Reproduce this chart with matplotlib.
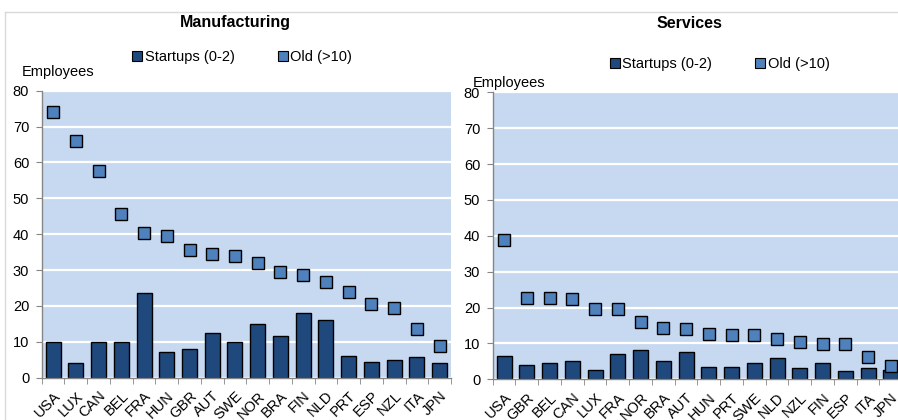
import matplotlib
matplotlib.use("Agg")
import matplotlib.pyplot as plt
import numpy as np
from matplotlib.lines import Line2D

plt.rcParams['font.family'] = ['Liberation Sans', 'DejaVu Sans']

manu_countries = ["USA", "LUX", "CAN", "BEL", "FRA", "HUN", "GBR", "AUT", "SWE",
                  "NOR", "BRA", "FIN", "NLD", "PRT", "ESP", "NZL", "ITA", "JPN"]
manu_startups = [10.0, 4.1, 10.0, 10.0, 23.5, 7.2, 8.1, 12.4, 10.0,
                 15.1, 11.6, 17.9, 16.0, 6.1, 4.5, 4.9, 5.7, 4.1]
manu_old = [74.0, 66.0, 57.7, 45.5, 40.3, 39.6, 35.6, 34.5, 34.0,
            32.1, 29.6, 28.5, 26.6, 23.8, 20.6, 19.4, 13.6, 8.7]

serv_countries = ["USA", "GBR", "BEL", "CAN", "LUX", "FRA", "NOR", "BRA", "AUT",
                  "HUN", "PRT", "SWE", "NLD", "NZL", "FIN", "ESP", "ITA", "JPN"]
serv_startups = [6.6, 3.9, 4.6, 5.0, 2.6, 7.0, 8.1, 5.0, 7.7,
                 3.4, 3.4, 4.6, 5.8, 3.1, 4.6, 2.2, 3.1, 2.6]
serv_old = [38.8, 22.7, 22.7, 22.3, 19.5, 19.5, 15.9, 14.4, 14.0,
            12.7, 12.4, 12.4, 11.2, 10.3, 9.9, 9.9, 6.1, 3.7]

yticks = [0, 10, 20, 30, 40, 50, 60, 70, 80]
series_labels = ["Startups (0-2)", "Old (>10)"]

W, H = 898, 420
BG = "#C6D9F0"
BAR = "#1F497D"
MARK = "#4F81BD"
AXC = "#868686"
FS = 10.5

fig = plt.figure(figsize=(W / 100, H / 100), dpi=100)


def px_axes(x0, x1, ytop, ybot):
    return fig.add_axes([x0 / W, (H - ybot) / H, (x1 - x0) / W, (ybot - ytop) / H])


def draw_panel(ax, cats, starts, olds):
    n = len(cats)
    x = np.arange(n)
    ax.set_facecolor(BG)
    ax.set_axisbelow(True)
    ax.yaxis.grid(True, color="white", linewidth=1.6)
    ax.bar(x, starts, width=0.66, color=BAR, edgecolor="black", linewidth=1.0, zorder=2)
    ax.plot(x, olds, linestyle="none", marker="s", markersize=8.2,
            markerfacecolor=MARK, markeredgecolor="black", markeredgewidth=1.0, zorder=3)
    ax.set_xlim(-0.5, n - 0.5)
    ax.set_ylim(0, 80)
    ax.set_yticks(yticks)
    ax.set_xticks(x)
    ax.set_xticklabels(cats, rotation=45, ha="right", rotation_mode="anchor", fontsize=FS)
    ax.set_xticks(np.arange(n + 1) - 0.5, minor=True)
    ax.tick_params(axis="x", which="major", length=0, pad=8)
    ax.tick_params(axis="x", which="minor", length=4, color=AXC, direction="out")
    ax.tick_params(axis="y", length=4, color=AXC, labelsize=FS, pad=5)
    for s in ("top", "right"):
        ax.spines[s].set_visible(False)
    for s in ("left", "bottom"):
        ax.spines[s].set_color(AXC)
        ax.spines[s].set_linewidth(1.0)


ax1 = px_axes(41.7, 451, 90.7, 377.7)
draw_panel(ax1, manu_countries, manu_startups, manu_old)

ax2 = px_axes(492.7, 902.2, 92.3, 379.3)
draw_panel(ax2, serv_countries, serv_startups, serv_old)

# titles
fig.text(235 / W, 1 - 23 / H, "Manufacturing", ha="center", va="center",
         fontsize=11.5, fontweight="bold")
fig.text(689 / W, 1 - 23 / H, "Services", ha="center", va="center",
         fontsize=11.5, fontweight="bold")

# axis labels
fig.text(22 / W, 1 - 72 / H, "Employees", ha="left", va="center", fontsize=FS)
fig.text(473 / W, 1 - 83 / H, "Employees", ha="left", va="center", fontsize=FS)

# legends
handles = [
    Line2D([], [], linestyle="none", marker="s", markersize=6.5,
           markerfacecolor=BAR, markeredgecolor="black", markeredgewidth=0.8),
    Line2D([], [], linestyle="none", marker="s", markersize=6.5,
           markerfacecolor=MARK, markeredgecolor="black", markeredgewidth=0.8),
]
for (cx, cy) in [(242.5 / W, 1 - 57 / H), (720 / W, 1 - 64 / H)]:
    fig.legend(handles, series_labels, loc="center", bbox_to_anchor=(cx, cy),
               ncol=2, frameon=False, fontsize=FS, handlelength=0.6,
               handletextpad=0.2, columnspacing=3.0, borderpad=0)

# chart border lines
fig.add_artist(Line2D([5 / W, 1], [1 - 12 / H, 1 - 12 / H], color="#D9D9D9", linewidth=1.0))
fig.add_artist(Line2D([5 / W, 5 / W], [0, 1 - 12 / H], color="#D9D9D9", linewidth=1.0))

fig.savefig("out.png", dpi=100)
